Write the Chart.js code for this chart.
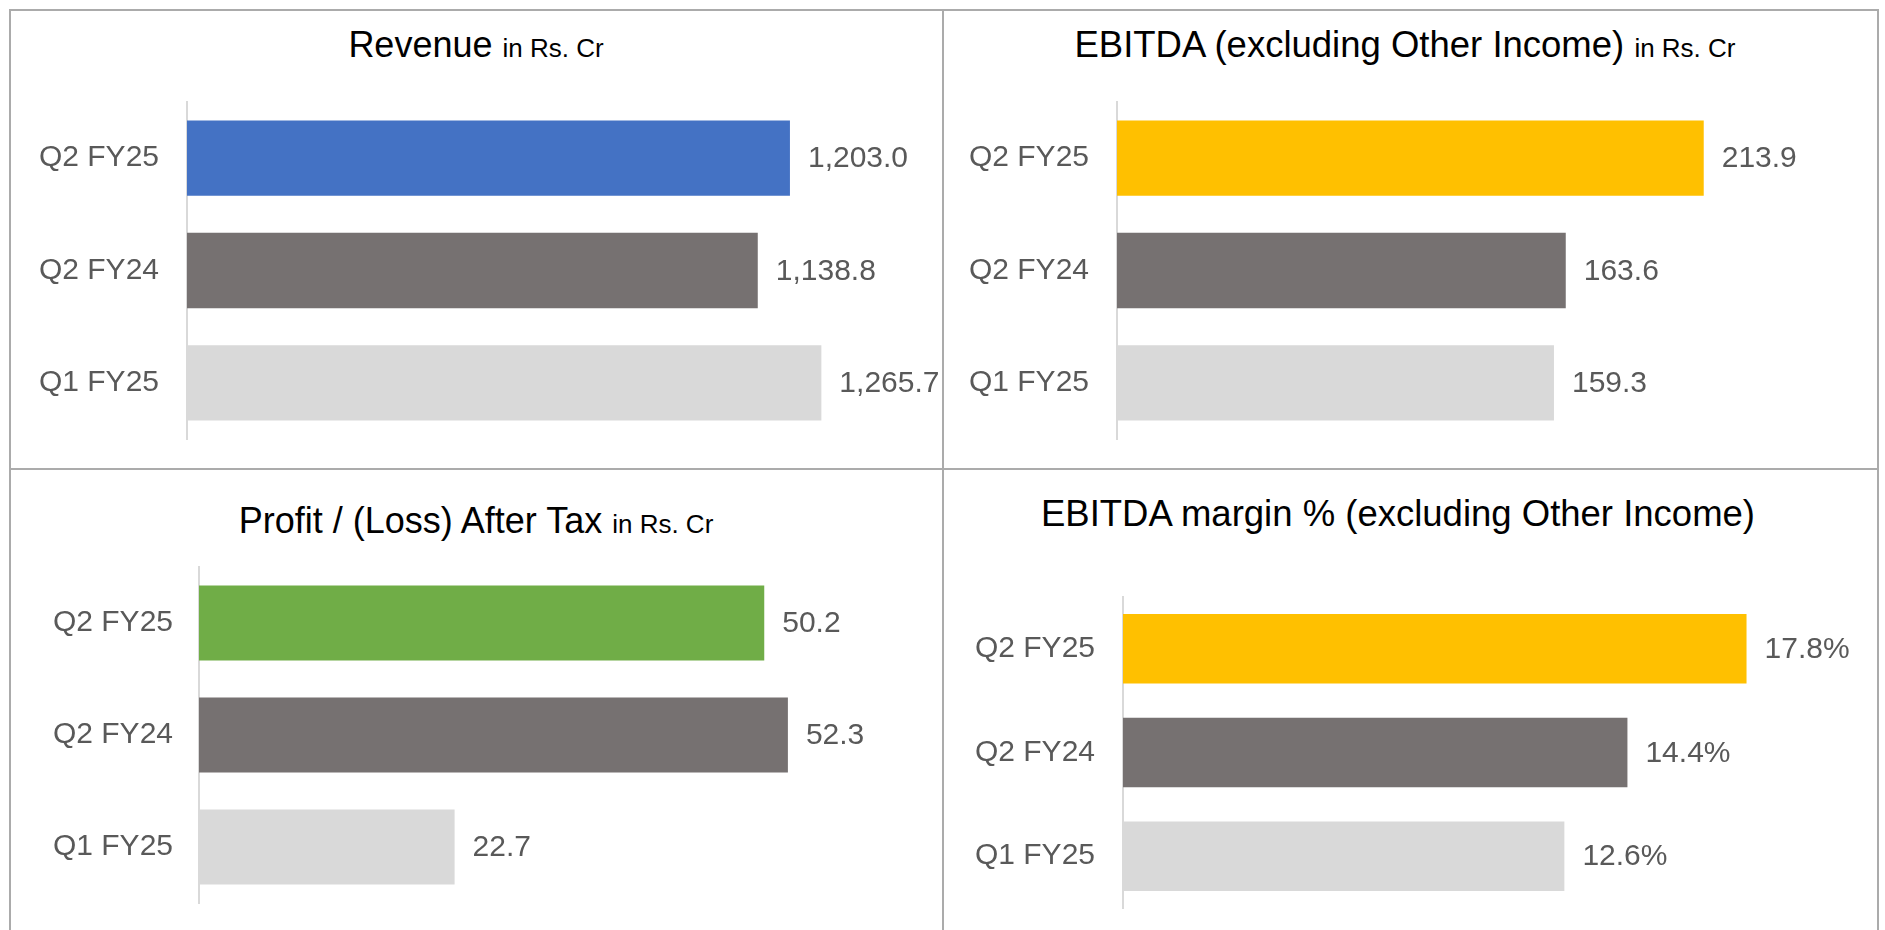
<!DOCTYPE html>
<html>
<head>
<meta charset="utf-8">
<script src="https://cdn.jsdelivr.net/npm/chart.js@4.4.1/dist/chart.umd.min.js"></script>
<style>
html, body { margin: 0; padding: 0; background: #fff; }
body { width: 1885px; height: 930px; position: relative; overflow: hidden; font-family: "Liberation Sans", Arial, sans-serif; }
.line { position: absolute; background: #ababab; }
.panel { position: absolute; }
.panel canvas { position: absolute; left: 0; top: 0; }
.title { position: absolute; width: 900px; text-align: center; font-size: 36px; line-height: 36px; color: #000; white-space: nowrap; }
.title span { font-size: 26px; }
</style>
</head>
<body>

<!-- frame lines -->
<div class="line" style="left:9px;top:9px;width:1870px;height:2px"></div>
<div class="line" style="left:9px;top:9px;width:2px;height:921px"></div>
<div class="line" style="left:1877px;top:9px;width:2px;height:921px"></div>
<div class="line" style="left:942px;top:9px;width:2px;height:921px"></div>
<div class="line" style="left:9px;top:468px;width:1870px;height:2px"></div>

<div class="panel" style="left:10px;top:10px;width:933px;height:459px">
  <div class="title" style="left:16px;top:17px">Revenue <span>in Rs. Cr</span></div>
  <canvas id="revenueChart" width="933" height="459"></canvas>
</div>
<div class="panel" style="left:943px;top:10px;width:934px;height:459px">
  <div class="title" style="left:12px;top:17px;font-size:36.5px">EBITDA (excluding Other Income) <span>in Rs. Cr</span></div>
  <canvas id="ebitdaChart" width="934" height="459"></canvas>
</div>
<div class="panel" style="left:10px;top:469px;width:933px;height:461px">
  <div class="title" style="left:16px;top:34px">Profit / (Loss) After Tax <span>in Rs. Cr</span></div>
  <canvas id="patChart" width="933" height="461"></canvas>
</div>
<div class="panel" style="left:943px;top:469px;width:934px;height:461px">
  <div class="title" style="left:5px;top:27px;font-size:36.5px">EBITDA margin % (excluding Other Income)</div>
  <canvas id="marginChart" width="934" height="461"></canvas>
</div>

<script>
// data
const categories = ["Q2 FY25", "Q2 FY24", "Q1 FY25"];
const revenue = [1203.0, 1138.8, 1265.7];
const ebitda = [213.9, 163.6, 159.3];
const pat = [50.2, 52.3, 22.7];
const ebitdaMargin = [17.8, 14.4, 12.6];

const revenueColors = ["#4472C4", "#767171", "#D9D9D9"];
const ebitdaColors = ["#FFC000", "#767171", "#D9D9D9"];
const patColors = ["#70AD47", "#767171", "#D9D9D9"];

const FONT = '"Liberation Sans", Arial, sans-serif';

function fmtCr(v) {
  return v.toLocaleString("en-US", { minimumFractionDigits: 1, maximumFractionDigits: 1 });
}
function fmtPct(v) {
  return v.toFixed(1) + "%";
}

// draws the value next to the end of each bar
function labelPlugin(fmt) {
  return {
    id: "valueLabels",
    afterDatasetsDraw(chart) {
      const ctx = chart.ctx;
      const meta = chart.getDatasetMeta(0);
      const data = chart.data.datasets[0].data;
      ctx.save();
      ctx.font = "30px " + FONT;
      ctx.fillStyle = "#595959";
      ctx.textAlign = "left";
      ctx.textBaseline = "middle";
      meta.data.forEach((bar, i) => {
        ctx.fillText(fmt(data[i]), bar.x + 18, bar.y + 1);
      });
      ctx.restore();
    }
  };
}

// p: axisX, top, bottom (inside the canvas), pxPerUnit, max, labelPad
function makeChart(id, values, colors, fmt, p) {
  const canvas = document.getElementById(id);
  const W = canvas.width, H = canvas.height;
  const rightPad = W - p.axisX - p.max * p.pxPerUnit;
  return new Chart(canvas.getContext("2d"), {
    type: "bar",
    data: {
      labels: categories,
      datasets: [{
        data: values,
        backgroundColor: colors,
        barPercentage: 0.67,
        categoryPercentage: 1
      }]
    },
    options: {
      indexAxis: "y",
      responsive: false,
      animation: false,
      layout: { padding: { left: 0, top: p.top, bottom: H - p.bottom, right: rightPad } },
      plugins: { legend: { display: false }, tooltip: { enabled: false } },
      scales: {
        x: { display: false, min: 0, max: p.max },
        y: {
          grid: { display: false, drawTicks: false },
          border: { display: true, color: "#d9d9d9", width: 2 },
          ticks: { color: "#595959", font: { family: FONT, size: 30 }, padding: p.labelPad },
          afterFit(scale) {
            scale.width = p.axisX;
            // labels sit inside the bands, so no extra room above/below the plot
            scale.paddingTop = 0;
            scale.paddingBottom = 0;
          }
        }
      }
    },
    plugins: [labelPlugin(fmt)]
  });
}

makeChart("revenueChart", revenue, revenueColors, fmtCr,
  { axisX: 177, top: 92, bottom: 429, pxPerUnit: 0.5012, max: 1400, labelPad: 28 });
makeChart("ebitdaChart", ebitda, ebitdaColors, fmtCr,
  { axisX: 174, top: 92, bottom: 429, pxPerUnit: 2.743, max: 250, labelPad: 28 });
makeChart("patChart", pat, patColors, fmtCr,
  { axisX: 189, top: 98, bottom: 434, pxPerUnit: 11.26, max: 60, labelPad: 26 });
makeChart("marginChart", ebitdaMargin, ebitdaColors, fmtPct,
  { axisX: 180, top: 128, bottom: 439, pxPerUnit: 35.03, max: 20, labelPad: 28 });
</script>
</body>
</html>
